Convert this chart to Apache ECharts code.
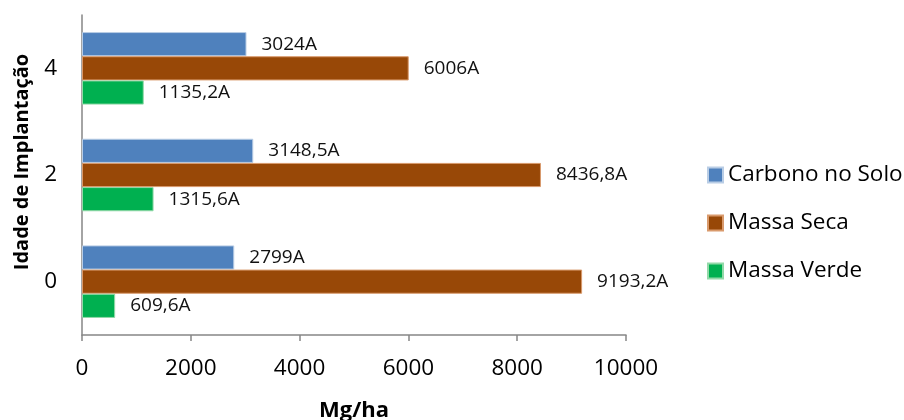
<!DOCTYPE html>
<html><head><meta charset="utf-8">
<script src="https://cdn.jsdelivr.net/npm/echarts@6/dist/echarts.min.js"></script>
<style>html,body{margin:0;padding:0;background:#fff}#c{width:904px;height:420px}</style>
</head><body><div id="c"></div>
<script>
const categories = ['0', '2', '4'];
const seriesNames = ['Carbono no Solo', 'Massa Seca', 'Massa Verde'];
const carbono = [2799, 3148.5, 3024];
const massaSeca = [9193.2, 8436.8, 6006];
const massaVerde = [609.6, 1315.6, 1135.2];
const xTicks = [0, 2000, 4000, 6000, 8000, 10000];

const font = '"Open Sans", "Noto Sans", sans-serif';
const colors = ['#4F81BD', '#984807', '#00B050'];
const borders = ['#B9CDE5', '#D99A6C', '#92D9A8'];
const fmt = p => String(p.value).replace('.', ',') + 'A';
const data = [carbono, massaSeca, massaVerde];

const chart = echarts.init(document.getElementById('c'));
chart.setOption({
  animation: false,
  grid: { left: 82, right: 278, top: 15, bottom: 85, containLabel: false, outerBoundsMode: 'none' },
  legend: {
    orient: 'vertical', left: 702, top: 157, itemGap: 22,
    itemWidth: 15, itemHeight: 15, icon: 'rect',
    data: seriesNames,
    textStyle: { fontFamily: font, fontSize: 22.5, lineHeight: 26, color: '#000', padding: [0, 0, 0, 0] }
  },
  xAxis: {
    type: 'value', min: xTicks[0], max: xTicks[xTicks.length - 1], interval: 2000,
    name: 'Mg/ha', nameLocation: 'middle', nameGap: 65,
    nameTextStyle: { fontFamily: font, fontSize: 22, fontWeight: 'bold', color: '#000' },
    axisLine: { show: true, lineStyle: { color: '#868686', width: 1.5 } },
    axisTick: { show: true, length: 6, lineStyle: { color: '#868686', width: 1.5 } },
    axisLabel: { fontFamily: font, fontSize: 22.5, color: '#000', margin: 22, formatter: v => String(v) },
    splitLine: { show: false }
  },
  yAxis: {
    type: 'category', data: categories,
    name: 'Idade de Implantação', nameLocation: 'middle', nameGap: 50,
    nameTextStyle: { fontFamily: font, fontSize: 20, fontWeight: 'bold', color: '#000', padding: [0, 0, 0, 26] },
    axisLine: { show: true, lineStyle: { color: '#868686', width: 1.5 } },
    axisTick: { show: false },
    axisLabel: { fontFamily: font, fontSize: 22.5, color: '#000', margin: 25 }
  },
  series: seriesNames.map((n, i) => ({
    name: n, type: 'bar', data: data[i],
    barGap: '0%', barCategoryGap: '32%',
    itemStyle: { color: colors[i], borderColor: borders[i], borderWidth: 1 },
    label: { show: true, position: 'right', distance: 15, formatter: fmt,
      fontFamily: font, fontSize: 19, color: '#111' }
  }))
});
</script></body></html>
